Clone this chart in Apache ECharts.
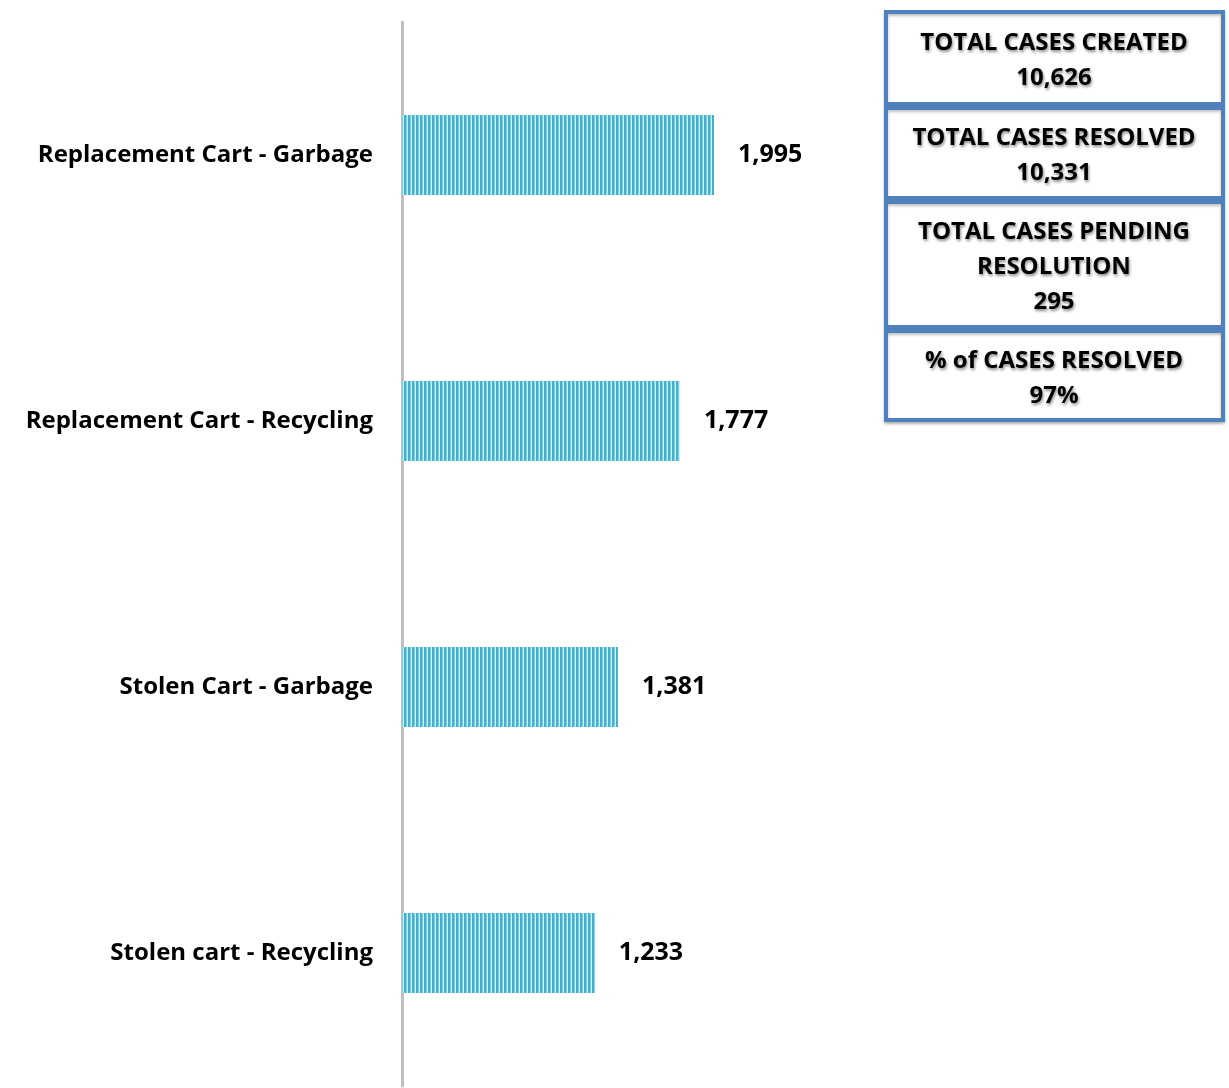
<!DOCTYPE html>
<html>
<head>
<meta charset="utf-8">
<title>Cart cases</title>
<script src="https://cdn.jsdelivr.net/npm/echarts@6/dist/echarts.min.js"></script>
<style>
  html, body { margin: 0; padding: 0; background: #fff; }
  #main { width: 1229px; height: 1088px; }
</style>
</head>
<body>
<div id="main"></div>
<script>
// data
var categories = ["Replacement Cart - Garbage", "Replacement Cart - Recycling", "Stolen Cart - Garbage", "Stolen cart - Recycling"];
var values = [1995, 1777, 1381, 1233];
var boxTitles = ["TOTAL CASES CREATED", "TOTAL CASES RESOLVED", "TOTAL CASES PENDING\nRESOLUTION", "% of CASES RESOLVED"];
var boxValues = ["10,626", "10,331", "295", "97%"];

// striped fill for the bars
function stripes() {
  var c = document.createElement("canvas");
  c.width = 4; c.height = 8;
  var ctx = c.getContext("2d");
  ctx.fillStyle = "#d3edf4"; ctx.fillRect(0, 0, 4, 8);
  ctx.fillStyle = "#4aaecb"; ctx.fillRect(0, 0, 2, 8);
  ctx.fillStyle = "#86cbde"; ctx.fillRect(2, 0, 1, 8);
  return c;
}

var myChart = echarts.init(document.getElementById("main"));

var FONT = "'Open Sans'";

// box positions
var boxes = [
  { top: 12, h: 92 },
  { top: 108, h: 90 },
  { top: 202, h: 125 },
  { top: 331, h: 89 }
];
var graphic = [];
boxes.forEach(function (b, i) {
  graphic.push({
    type: "rect",
    shape: { x: 886, y: b.top, width: 337, height: b.h },
    style: { fill: "#fff", stroke: "#4f81bd", lineWidth: 4, shadowColor: "rgba(0,0,0,0.25)", shadowBlur: 3, shadowOffsetY: 2 },
    z: 10
  });
  graphic.push({
    type: "text",
    x: 1054,
    y: b.top + b.h / 2 + 3,
    style: {
      text: boxTitles[i] + "\n" + boxValues[i],
      font: "bold 24px " + FONT,
      fill: "#000",
      align: "center",
      verticalAlign: "middle",
      lineHeight: 35,
      textShadowColor: "rgba(0,0,0,0.45)",
      textShadowBlur: 3,
      textShadowOffsetX: 1,
      textShadowOffsetY: 2
    },
    z: 11
  });
});

var option = {
  animation: false,
  grid: { left: 402, top: 22, width: 782, height: 1064, containLabel: false },
  xAxis: { type: "value", min: 0, max: 5000, show: false },
  yAxis: {
    type: "category",
    inverse: true,
    data: categories,
    offset: 2,
    axisLine: { show: true, lineStyle: { color: "#bfbfbf", width: 3 } },
    axisTick: { show: false },
    axisLabel: { color: "#000", fontWeight: "bold", fontSize: 24, fontFamily: FONT, margin: 27 }
  },
  series: [{
    type: "bar",
    data: values,
    barWidth: 80,
    itemStyle: { color: { image: stripes(), repeat: "repeat" } },
    label: {
      show: true,
      position: "right",
      distance: 24,
      color: "#000",
      fontWeight: "bold",
      fontSize: 25,
      fontFamily: FONT,
      formatter: function (p) { return p.value.toLocaleString("en-US"); }
    }
  }],
  graphic: graphic
};
myChart.setOption(option);
</script>
</body>
</html>
